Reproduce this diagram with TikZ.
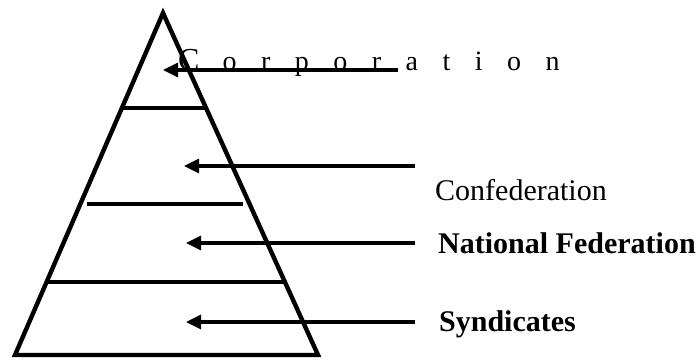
\documentclass[tikz,border=0pt]{standalone}
\usepackage{fontspec}
\setmainfont{Liberation Serif}
\usetikzlibrary{arrows.meta}
\begin{document}
\begin{tikzpicture}[x=1pt,y=-1pt,
  pyr/.style={line width=4.4pt,line join=miter},
  tier/.style={line width=3.2pt},
  ptr/.style={line width=3.2pt,-{Triangle[length=15pt,width=14pt]}},
  lbl/.style={anchor=base west,inner sep=0pt,font=\fontsize{30}{30}\selectfont},
  lblb/.style={lbl,font=\fontsize{30}{30}\selectfont\bfseries}]
\useasboundingbox (0,0) rectangle (698,359);
% pyramid
\coordinate (apex) at (163,13);
\coordinate (bl) at (15,355);
\coordinate (br) at (318,355);
\draw[pyr] (apex) -- (bl) -- (br) -- cycle;
% tiers
\coordinate (t1l) at (122,108); \coordinate (t1r) at (206,108);
\coordinate (t2l) at (87,204);  \coordinate (t2r) at (243,204);
\coordinate (t3l) at (47,282);  \coordinate (t3r) at (285,282);
\draw[tier] (t1l) -- (t1r);
\draw[tier] (t2l) -- (t2r);
\draw[tier] (t3l) -- (t3r);
% labels
\node[lbl,font=\fontsize{28}{28}\selectfont] (corp) at (178,70)
  {{\fontsize{32}{32}\selectfont C}\kern 23pt o\kern 24.5pt r\kern 24.5pt p\kern 24.5pt o\kern 24.5pt r\kern 24.5pt a\kern 24.5pt t\kern 24.5pt i\kern 24.5pt o\kern 24.5pt n};
\node[lbl] (conf) at (435,200) {Confederation};
\node[lblb] (natf) at (438,253) {National Federation};
\node[lblb] (synd) at (439,331) {Syndicates};
% arrows
\coordinate (a1s) at (398,70);  \coordinate (a1e) at (163,70);
\coordinate (a2s) at (415,166); \coordinate (a2e) at (184,166);
\coordinate (a3s) at (415,243); \coordinate (a3e) at (186,243);
\coordinate (a4s) at (415,322); \coordinate (a4e) at (186,322);
\draw[ptr] (a1s) -- (a1e);
\draw[ptr] (a2s) -- (a2e);
\draw[ptr] (a3s) -- (a3e);
\draw[ptr] (a4s) -- (a4e);
\end{tikzpicture}
\end{document}
